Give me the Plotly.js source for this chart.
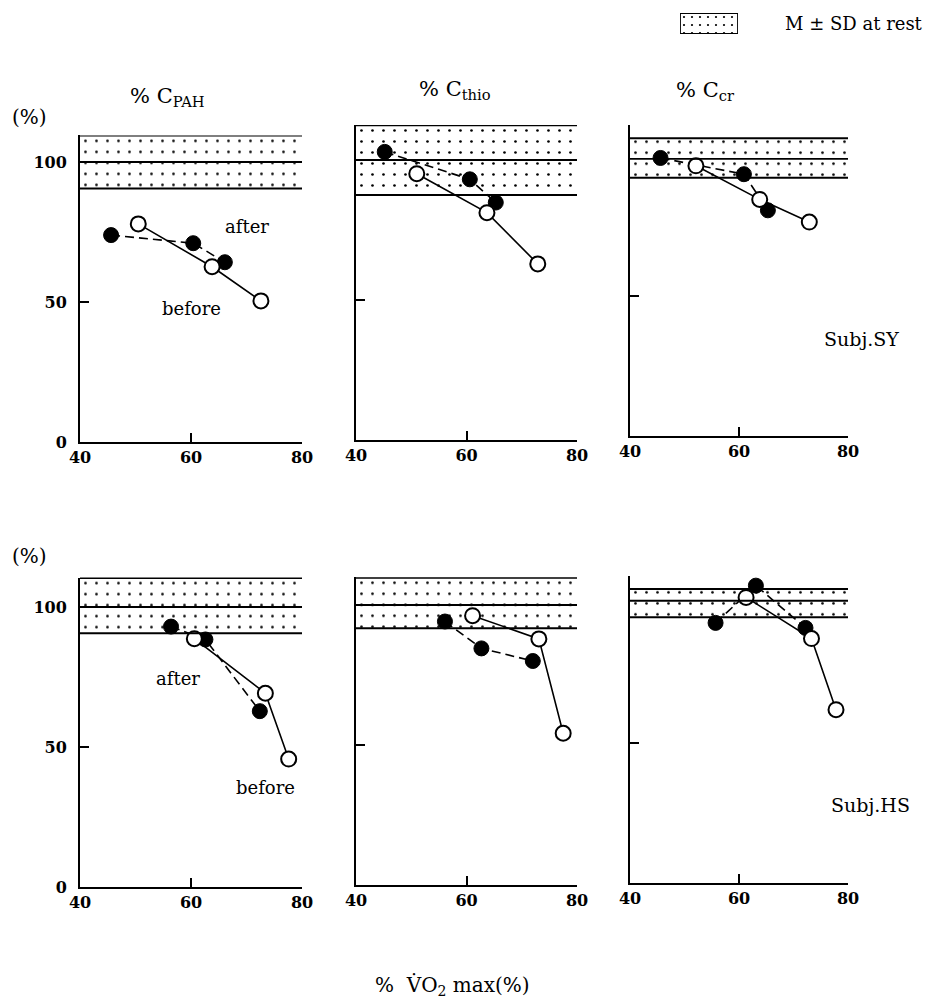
<!DOCTYPE html>
<html>
<head>
<meta charset="utf-8">
<script src="https://cdn.plot.ly/plotly-3.0.1.min.js"></script>
<style>html,body{margin:0;padding:0;background:#fff;}#chart{width:931px;height:999px;}</style>
</head>
<body>
<div id="chart"></div>
<script>
// ---------- DATA ----------
const measures = ['% C<sub>PAH</sub>', '% C<sub>thio</sub>', '% C<sub>cr</sub>'];
const subjects = ['Subj.SY', 'Subj.HS'];

// Subject SY
const SY_PAH_afterX  = [45.6, 60.4, 66.1];  const SY_PAH_afterY  = [73.9, 71.0, 64.2];
const SY_PAH_beforeX = [50.5, 63.8, 72.6];  const SY_PAH_beforeY = [77.9, 62.6, 50.4];
const SY_THIO_afterX  = [45.2, 60.6, 65.3]; const SY_THIO_afterY  = [102.9, 93.1, 84.8];
const SY_THIO_beforeX = [51.0, 63.7, 72.9]; const SY_THIO_beforeY = [95.1, 81.2, 62.9];
const SY_CR_afterX  = [45.6, 60.9, 65.3];   const SY_CR_afterY  = [99.3, 93.5, 80.6];
const SY_CR_beforeX = [52.1, 63.8, 72.9];   const SY_CR_beforeY = [96.5, 84.5, 76.4];
// Subject HS
const HS_PAH_afterX  = [56.4, 62.6, 72.4];  const HS_PAH_afterY  = [93.0, 88.4, 62.8];
const HS_PAH_beforeX = [60.6, 73.4, 77.6];  const HS_PAH_beforeY = [88.7, 69.2, 45.7];
const HS_THIO_afterX  = [56.1, 62.7, 72.0]; const HS_THIO_afterY  = [94.1, 84.5, 80.0];
const HS_THIO_beforeX = [61.1, 73.1, 77.5]; const HS_THIO_beforeY = [96.2, 87.9, 54.2];
const HS_CR_afterX  = [55.7, 63.1, 72.2];   const HS_CR_afterY  = [92.9, 106.2, 91.1];
const HS_CR_beforeX = [61.3, 73.3, 77.8];   const HS_CR_beforeY = [102.0, 87.3, 61.9];

// Rest values (M - SD, M, M + SD) per panel: SY PAH, SY thio, SY cr, HS PAH, HS thio, HS cr
const restLow  = [90.5, 87.5, 92.2, 90.6, 91.7, 94.9];
const restMean = [100, 100, 99, 100, 100, 100.8];
const restHigh = [109.5, 112.4, 106.3, 110.4, 109.7, 105.0];

const xTicks = [40, 60, 80];
const yTicks = [0, 50, 100];
const yTickMarks = [0, 50];

// ---------- LAYOUT GEOMETRY ----------
const W = 931, H = 999;
const colLeft = [80, 356, 630], colRight = [302, 577, 848];
const zeroPx = [442, 440, 436, 887, 885, 883];
const pxPerUnit = 2.8;
const axisTop = [109.5, 112.5, 111, 110.5, 109.9, 109.7];
const FONT = 'DejaVu Serif, Liberation Serif, serif';

const afterX = [SY_PAH_afterX, SY_THIO_afterX, SY_CR_afterX, HS_PAH_afterX, HS_THIO_afterX, HS_CR_afterX];
const afterY = [SY_PAH_afterY, SY_THIO_afterY, SY_CR_afterY, HS_PAH_afterY, HS_THIO_afterY, HS_CR_afterY];
const beforeX = [SY_PAH_beforeX, SY_THIO_beforeX, SY_CR_beforeX, HS_PAH_beforeX, HS_THIO_beforeX, HS_CR_beforeX];
const beforeY = [SY_PAH_beforeY, SY_THIO_beforeY, SY_CR_beforeY, HS_PAH_beforeY, HS_THIO_beforeY, HS_CR_beforeY];

const traces = [];
const shapes = [];
const annotations = [];
const layout = {
  width: W, height: H,
  margin: {l: 0, r: 0, t: 0, b: 0},
  paper_bgcolor: '#fff', plot_bgcolor: 'rgba(0,0,0,0)',
  showlegend: false,
  font: {family: FONT, color: '#000', size: 16},
  bargap: 0
};

const pattern = {shape: '.', fgcolor: '#000', bgcolor: '#fff', size: 11, solidity: 0.045};
const tickFont = {family: FONT, size: 16, color: '#000', weight: 'bold'};

for (let i = 0; i < 6; i++) {
  const n = i + 1;
  const col = i % 3;
  const xa = 'x' + (n === 1 ? '' : n), ya = 'y' + (n === 1 ? '' : n);
  const xk = 'xaxis' + (n === 1 ? '' : n), yk = 'yaxis' + (n === 1 ? '' : n);
  const topPx = zeroPx[i] - axisTop[i] * pxPerUnit;
  layout[xk] = {
    domain: [colLeft[col] / W, colRight[col] / W],
    anchor: ya, range: [40, 80], fixedrange: true,
    showline: true, linewidth: 2, linecolor: '#000', showgrid: false, zeroline: false,
    tickmode: 'array', tickvals: xTicks, ticktext: xTicks.map(String),
    ticks: 'inside', ticklen: 9, tickwidth: 2, tickcolor: '#000',
    tickfont: tickFont
  };
  const yAx = {
    domain: [1 - zeroPx[i] / H, 1 - topPx / H],
    anchor: xa, range: [0, axisTop[i]], fixedrange: true,
    showline: true, linewidth: 2, linecolor: '#000', showgrid: false, zeroline: false,
    tickmode: 'array', tickvals: yTickMarks,
    ticks: 'inside', ticklen: 9, tickwidth: 1.5, tickcolor: '#000',
    showticklabels: false
  };
  if (col === 0) {
    yAx.tickvals = yTicks;
    yAx.ticktext = yTicks.map(String);
    yAx.showticklabels = true;
    yAx.ticklabelstandoff = 8;
    yAx.tickfont = tickFont;
  }
  layout[yk] = yAx;
  // rest band (M ± SD), dotted
  traces.push({
    type: 'bar', x: [60], width: [40], base: [restLow[i]], y: [restHigh[i] - restLow[i]],
    xaxis: xa, yaxis: ya, hoverinfo: 'skip',
    marker: {color: '#fff', pattern: pattern, line: {width: 0}}
  });
  [restLow[i], restMean[i], restHigh[i]].forEach((v, k) => {
    shapes.push({type: 'line', xref: xa, yref: ya, x0: 40, x1: 80, y0: v, y1: v,
      line: {color: '#000', width: k === 1 ? 1.8 : 2}});
  });
  // after (filled, dashed)
  traces.push({
    type: 'scatter', mode: 'lines+markers', x: afterX[i], y: afterY[i],
    xaxis: xa, yaxis: ya, cliponaxis: false,
    line: {color: '#000', width: 1.6, dash: '9px,5px'},
    marker: {symbol: 'circle', size: 15, color: '#000', line: {color: '#000', width: 1}}
  });
  // before (open, solid)
  traces.push({
    type: 'scatter', mode: 'lines+markers', x: beforeX[i], y: beforeY[i],
    xaxis: xa, yaxis: ya, cliponaxis: false,
    line: {color: '#000', width: 1.6},
    marker: {symbol: 'circle', size: 15, color: '#fff', line: {color: '#000', width: 2}}
  });
}

// column titles
const titleX = [167, 455, 705], titleY = [97, 90, 91];
measures.forEach((t, c) => {
  annotations.push({xref: 'paper', yref: 'paper', x: titleX[c] / W, y: 1 - titleY[c] / H,
    text: t, showarrow: false, xanchor: 'center', yanchor: 'middle',
    font: {family: FONT, size: 21, color: '#000'}});
});
// (%) labels
[117, 556].forEach(py => annotations.push({xref: 'paper', yref: 'paper', x: 29 / W, y: 1 - py / H,
  text: '(%)', showarrow: false, xanchor: 'center', yanchor: 'middle',
  font: {family: FONT, size: 20, color: '#000'}}));
// subject labels
const subjX = [861, 870], subjY = [339, 805];
subjects.forEach((s, r) => annotations.push({xref: 'paper', yref: 'paper', x: subjX[r] / W, y: 1 - subjY[r] / H,
  text: s, showarrow: false, xanchor: 'center', yanchor: 'middle',
  font: {family: FONT, size: 19, color: '#000'}}));
// after / before labels
const lblFont = {family: FONT, size: 18, color: '#000'};
annotations.push({xref: 'x', yref: 'y', x: 70.1, y: 77, text: 'after', showarrow: false, font: lblFont});
annotations.push({xref: 'x', yref: 'y', x: 60.1, y: 47.7, text: 'before', showarrow: false, font: lblFont});
annotations.push({xref: 'x4', yref: 'y4', x: 57.7, y: 74.3, text: 'after', showarrow: false, font: lblFont});
annotations.push({xref: 'x4', yref: 'y4', x: 73.4, y: 35.6, text: 'before', showarrow: false, font: lblFont});
// x axis title
annotations.push({xref: 'paper', yref: 'paper', x: 452 / W, y: 1 - 986 / H,
  text: '%  V\u0307O<sub>2</sub> max(%)', showarrow: false, xanchor: 'center', yanchor: 'middle',
  font: {family: FONT, size: 20, color: '#000'}});

// legend key (dotted box)
layout.xaxis7 = {domain: [680 / W, 738 / W], anchor: 'y7', range: [0, 1], fixedrange: true,
  showline: false, showgrid: false, zeroline: false, showticklabels: false, ticks: ''};
layout.yaxis7 = {domain: [1 - 34 / H, 1 - 13 / H], anchor: 'x7', range: [0, 1], fixedrange: true,
  showline: false, showgrid: false, zeroline: false, showticklabels: false, ticks: ''};
traces.push({type: 'bar', x: [0.5], width: [1], base: [0], y: [1], xaxis: 'x7', yaxis: 'y7', hoverinfo: 'skip',
  marker: {color: '#fff', pattern: {shape: '.', fgcolor: '#000', bgcolor: '#fff', size: 8, solidity: 0.06},
           line: {color: '#000', width: 1.8}}});
annotations.push({xref: 'paper', yref: 'paper', x: 783 / W, y: 1 - 23 / H,
  text: 'M \u00b1 SD at rest', showarrow: false, xanchor: 'left', yanchor: 'middle',
  font: {family: FONT, size: 18, color: '#000'}});

layout.shapes = shapes;
layout.annotations = annotations;

Plotly.newPlot('chart', traces, layout, {staticPlot: true, displayModeBar: false});
</script>
</body>
</html>
